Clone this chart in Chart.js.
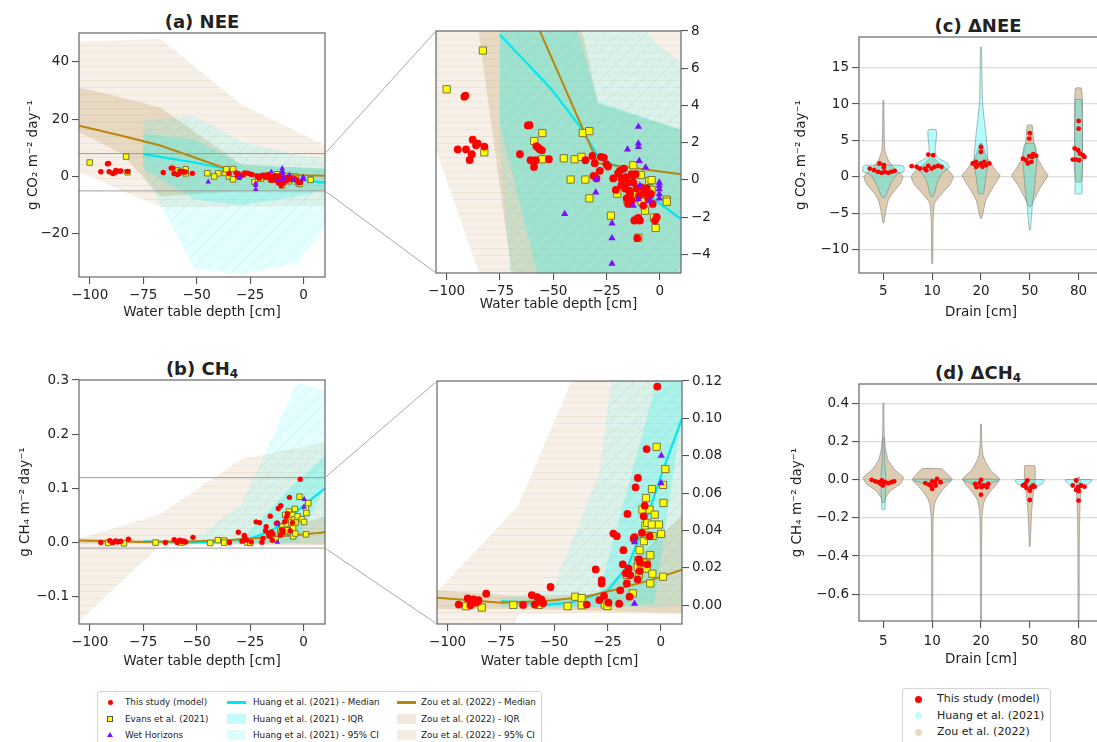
<!DOCTYPE html>
<html>
<head>
<meta charset="utf-8">
<script src="https://cdn.jsdelivr.net/npm/chart.js@4.4.1/dist/chart.umd.min.js"></script>
<style>
  body { margin: 0; background: #fff; width: 1097px; height: 742px; overflow: hidden; position: relative; font-family: 'DejaVu Sans', sans-serif; color: #222; }
  canvas { position: absolute; }
  .ttl { position: absolute; width: 240px; text-align: center; font-weight: bold; font-size: 18px; line-height: 18px; white-space: nowrap; }
  .ttl sub { font-size: 12px; vertical-align: -3px; line-height: 0; }
  .leg { position: absolute; border: 1px solid #d4d4d4; border-radius: 3px; background: #fff; }
  .li { position: absolute; white-space: nowrap; }
  .mk { position: absolute; }
  #overlay { position: absolute; left: 0; top: 0; pointer-events: none; }
</style>
</head>
<body>

<div class="ttl" style="left:82px;top:13px">(a) NEE</div>
<div class="ttl" style="left:82px;top:360px">(b) CH<sub>4</sub></div>
<div class="ttl" style="left:858px;top:17px">(c) ΔNEE</div>
<div class="ttl" style="left:858px;top:364px">(d) ΔCH<sub>4</sub></div>

<canvas id="cA" width="340" height="322" style="left:0;top:0"></canvas>
<canvas id="cAZ" width="330" height="322" style="left:400px;top:0"></canvas>
<canvas id="cB" width="340" height="322" style="left:0;top:350px"></canvas>
<canvas id="cBZ" width="330" height="322" style="left:400px;top:350px"></canvas>
<canvas id="cC" width="350" height="322" style="left:760px;top:0"></canvas>
<canvas id="cD" width="350" height="322" style="left:760px;top:350px"></canvas>

<div class="leg" id="leg1" style="left:97px;top:691px;width:443px;height:60px"></div>
<div class="leg" id="leg2" style="left:902px;top:688px;width:147px;height:62px"></div>

<svg id="overlay" width="1097" height="742"></svg>

<script>
// ---------- data: water table depth [cm] vs NEE [g CO2 m-2 day-1] ----------
const studyNeeWtd = [-91.2, -91.7, -94.8, -90.9, -87.8, -86.2, -85.4, -88.2, -89.2, -82.3, -65.6, -61.9, -61.1, -60.6, -59, -58.2, -57.9, -57, -56.2, -55.3, -52, -34.9, -31.6, -30.5, -31, -29.7, -28.1, -27.6, -26.2, -25, -24.2, -21.8, -20.6, -19.5, -18.7, -17.9, -16.8, -15.9, -14.8, -15.5, -14.8, -14, -13.2, -12.4, -11.3, -11.9, -10.8, -10, -10.5, -9.3, -12.4, -10.8, -8.5, -7.2, -6.1, -5.3, -3.3, -2.2, -1.4, -14.3, -13.2, -7.7, -9.7, -6.1, -4.1, -16.2, -18];
const studyNeeFlux = [4.53, 4.47, 1.64, 1.64, 2.16, 1.86, 1.95, 1.38, 1.07, 1.79, 1.38, 2.93, 2.94, 1.06, 0.7, 1.06, 1.82, 1.73, 1.64, 1.59, 1.11, 1.06, 1.29, 0.9, 0.22, 0.08, 0.49, 1.24, 1.2, 0.84, 0.72, 0.08, -0.53, 0.36, 0.49, 0.08, 0.61, 0.13, -0.14, -0.99, -1.29, -0.74, 0.31, 0.22, 0.31, -2.18, -2.09, -2.04, -3.13, -2.18, -0.14, -0.46, -0.4, -0.58, -0.76, -1.03, -1.29, -2.18, -2, -0.58, -1.12, -1.38, -0.85, -0.46, -0.76, -0.46, -0.28];
const evansNeeWtd = [-100, -83, -82.3, -58.9, -55.1, -55.1, -45, -39.9, -41.8, -36.7, -36.1, -33, -34.9, -33, -22.9, -19.9, -12.4, -15.1, -13.5, -11.6, -8.9, -10.5, -9.3, -8.5, -6.9, -6.9, -4.9, -3.8, -3.8, -2.7, -1.9, -10, 3.3, 3.3, -4.9];
const evansNeeFlux = [4.87, 6.95, 1.48, 2.09, 2.52, 1.11, 1.16, 1.11, 0.02, 1.24, 2.52, 2.62, 0.02, -0.99, -1.92, -0.74, 0.79, -1.1, -0.99, -0.67, 0.27, -0.74, -0.99, -1.17, -1.65, -0.67, -0.05, -0.01, -0.53, -2.02, -2.58, -3.1, -1.06, -1.17, -0.76];
const wetNeeWtd = [-44.6, -30, -29.7, -22.4, -22.4, -22.4, -15.1, -10, -10, -10, -9.6, -6.6, -12.4, -10, -0.2, -0.2, -0.2, -0.2, -0.2, -9.3, -4.6];
const wetNeeFlux = [-1.83, -0.67, 0.04, -2.33, -3.13, -4.5, 1.64, 2.86, 1.96, 1.77, 1.02, 0.67, -1.38, -1.03, -0.14, -0.49, -0.76, -0.99, -0.31, -0.31, -1.12];

// Huang et al. (2021) NEE
const huangNeeMedWtd = [-75, -51, -37, -28, -19, -12, -3, 10];
const huangNeeMed = [7.8, 4.9, 2.8, 1.1, 0.7, -0.1, -1.0, -2.1];
const huangNeeBandWtd = [-75, -51, -29, -3, 10];
const huangNeeIqrHi = [15, 13, 4.2, 3.2, 2.7];
const huangNeeIqrLo = [3, -8, -10, -7, -4.6];
const huangNeeCiHi = [19.6, 21.1, 12.1, 7.5, 6.3];
const huangNeeCiLo = [1.6, -32, -34, -30, -18];

// Zou et al. (2022) NEE
const zouNeeWtd = [-105, -85, -67, -29, 10];
const zouNeeMed = [17.7, 14.2, 10.8, 0.9, 0.3];
const zouNeeIqrHi = [31, 27.5, 24, 4.1, 2.7];
const zouNeeIqrLo = [15.5, 8, -7, -5, -5];
const zouNeeCiHi = [47, 47.5, 48, 25, 11];
const zouNeeCiLo = [1.6, -4.9, -10.5, -10.4, -10.2];

// ---------- data: water table depth [cm] vs CH4 [g CH4 m-2 day-1] ----------
const studyCh4Wtd = [-94.8, -90.6, -89.3, -87.9, -86.9, -85.8, -85.5, -81.9, -60.5, -59.1, -57.9, -56.8, -56, -55.2, -64.6, -51.7, -34.7, -30.5, -28.8, -27.7, -27.7, -26.6, -24.5, -22.2, -20.6, -19.5, -19, -17.8, -17.5, -16.4, -15.6, -15.9, -15.1, -14.3, -14.6, -12.7, -12.3, -11.8, -10.7, -10.8, -10.2, -9.9, -8.8, -8, -7.5, -6.6, -6.3, -5.2, -1.6, -9.6];
const studyCh4Flux = [0.0004, 0.0037, 0.0, 0.0032, 0.0014, 0.002, 0.0028, 0.0062, 0.0055, 0.0004, 0.0044, 0.0021, 0.0032, 0.0011, 0.0002, 0.0098, 0.0004, 0.0192, 0.0028, 0.0117, 0.0135, 0.005, 0.0014, 0.0384, 0.037, 0.0009, 0.008, 0.0219, 0.0295, 0.0171, 0.0489, 0.0117, 0.0196, 0.0162, 0.0046, 0.0356, 0.0364, 0.0631, 0.0681, 0.0139, 0.0245, 0.0183, 0.0388, 0.0476, 0.0533, 0.0836, 0.0219, 0.037, 0.117, 0.0228];
const evansCh4Wtd = [-91.4, -84, -69.2, -57.1, -43.7, -40.1, -37.1, -37.1, -26.3, -25, -15.9, -13.1, -10.8, -10.7, -10.2, -9.9, -9.3, -8.6, -7.9, -7.2, -6.9, -6.8, -6.6, -6.3, -5.7, -5.2, -4.9, -4.9, -4.2, -4.1, -3.9, -3.8, -2.8, -1.9, -0.8, 0.2, 1.1, 1.3, 2.2, 1.1, -7.7];
const evansCh4Flux = [-0.0005, -0.0012, 0.0002, 0.0002, -0.0005, 0.0046, 0.0039, 0.0, 0.0004, -0.0004, 0.0162, 0.0064, 0.0206, 0.0242, 0.0165, 0.0295, 0.0217, 0.0512, 0.0343, 0.0427, 0.0574, 0.0231, 0.0196, 0.0441, 0.0373, 0.0512, 0.0268, 0.0117, 0.0432, 0.0622, 0.0169, 0.037, 0.0485, 0.0848, 0.0432, 0.0382, 0.0644, 0.0548, 0.0729, 0.0153, 0.0228];
const wetCh4Wtd = [-12.3, -12.3, 0.3, 0.2];
const wetCh4Flux = [0.0009, 0.0338, 0.08, 0.0654];

const huangCh4MedWtd = [-75, -55, -42, -25, -15, -7, 1, 10];
const huangCh4Med = [0.0023, 0.0002, 0.0014, 0.0076, 0.022, 0.045, 0.072, 0.1];
const huangCh4BandWtd = [-75, -51, -29, -3, 10];
const huangCh4IqrHi = [0.003, 0.003, 0.006, 0.115, 0.16];
const huangCh4IqrLo = [0.0, -0.001, -0.001, 0.001, 0.102];
const huangCh4CiHi = [0.004, 0.008, 0.07, 0.295, 0.28];
const huangCh4CiLo = [-0.001, -0.001, -0.001, -0.001, 0.0];

const zouCh4MedWtd = [-105, -75, -54, -36, -21, -3, 10];
const zouCh4Med = [0.004, 0.0014, 0.0023, 0.0044, 0.0085, 0.014, 0.019];
const zouCh4BandWtd = [-105, -67, -29, 10];
const zouCh4IqrHi = [0.008, 0.005, 0.006, 0.048];
const zouCh4IqrLo = [-0.002, -0.002, -0.003, -0.004];
const zouCh4CiHi = [0.0073, 0.053, 0.154, 0.185];
const zouCh4CiLo = [-0.1455, -0.005, -0.004, -0.005];

// axis ranges and ticks
const wtdRange = [-105, 10];
const wtdTicks = [-100, -75, -50, -25, 0];
const neeRange = [-35, 50];
const neeTicks = [-20, 0, 20, 40];
const neeZoom = [-5, 8];
const neeZoomTicks = [-4, -2, 0, 2, 4, 6, 8];
const ch4Range = [-0.15, 0.3];
const ch4Ticks = [-0.1, 0.0, 0.1, 0.2, 0.3];
const ch4Zoom = [-0.01, 0.12];
const ch4ZoomTicks = [0, 0.02, 0.04, 0.06, 0.08, 0.10, 0.12];

// ---------- data: drain depth violins ----------
const drainLabels = ['5', '10', '20', '50', '80'];
const dNeeRange = [-13.2, 19.2];
const dNeeTicks = [-10, -5, 0, 5, 10, 15];
const dCh4Range = [-0.74, 0.5];
const dCh4Ticks = [-0.6, -0.4, -0.2, 0.0, 0.2, 0.4];

// violin outlines: value levels (top to bottom) and half widths
const zouDNeeLevels = [
  [10.5, 7, 3.65, 2.3, 1.4, 0.6, 0, -0.8, -1.6, -2.4, -3.2, -5, -6.3],
  [2.8, 2.05, 1.1, 0.4, 0, -0.9, -2.3, -3.6, -6, -9, -11.9],
  [4.6, 2.7, 0.9, 0.2, -1.4, -3.2, -5, -5.7],
  [7.1, 5, 2.7, 0.9, 0.2, -1.4, -3.2, -4.1],
  [12.2, 10.5, 8, 5.9, 3, 1.4, 0, -0.7]
];
const zouDNeeWidth = [
  [0.01, 0.015, 0.03, 0.1, 0.2, 0.33, 0.4, 0.36, 0.27, 0.17, 0.1, 0.04, 0.01],
  [0.02, 0.12, 0.3, 0.4, 0.43, 0.38, 0.2, 0.05, 0.02, 0.015, 0.01],
  [0.02, 0.12, 0.3, 0.39, 0.25, 0.1, 0.04, 0.01],
  [0.05, 0.08, 0.15, 0.3, 0.37, 0.22, 0.08, 0.02],
  [0.06, 0.08, 0.08, 0.08, 0.08, 0.08, 0.07, 0.05]
];
const huangDNeeLevels = [
  [1.6, 1.4, 0.7, 0.45, -0.3, -1.4, -2.2, -2.8],
  [6.5, 6.2, 5, 3.65, 2.7, 1.9, 1.3, 0.45, -0.5, -1.4, -2.2, -2.7],
  [17.8, 14, 10.5, 8.2, 5.9, 3.65, 1.8, 0, -1.4, -2.3],
  [4.6, 4.2, 2.7, 0.45, -1.4, -4.1, -5.9, -7.3],
  [10.6, 10, 5.9, 1.4, -1, -2.3]
];
const huangDNeeWidth = [
  [0.36, 0.42, 0.42, 0.3, 0.2, 0.12, 0.07, 0.03],
  [0.07, 0.09, 0.08, 0.06, 0.1, 0.3, 0.35, 0.2, 0.12, 0.08, 0.05, 0.02],
  [0.01, 0.02, 0.03, 0.06, 0.1, 0.13, 0.14, 0.1, 0.07, 0.05],
  [0.08, 0.12, 0.15, 0.12, 0.1, 0.05, 0.03, 0.01],
  [0.06, 0.07, 0.08, 0.08, 0.07, 0.07]
];
const zouDCh4Levels = [
  [0.4, 0.3, 0.22, 0.15, 0.1, 0.047, 0.012, -0.023, -0.058, -0.093, -0.12],
  [0.057, 0.02, 0.0, -0.03, -0.058, -0.1, -0.128, -0.2, -0.4, -0.76],
  [0.29, 0.2, 0.13, 0.1, 0.047, 0.003, -0.03, -0.058, -0.1, -0.128, -0.2, -0.4, -0.76],
  [0.073, 0.06, 0.0, -0.058, -0.16, -0.3, -0.35],
  [0.012, -0.04, -0.128, -0.3, -0.5, -0.76]
];
const zouDCh4Width = [
  [0.01, 0.012, 0.02, 0.05, 0.1, 0.25, 0.41, 0.35, 0.15, 0.05, 0.02],
  [0.2, 0.35, 0.41, 0.3, 0.2, 0.09, 0.05, 0.02, 0.013, 0.01],
  [0.01, 0.015, 0.04, 0.08, 0.2, 0.38, 0.3, 0.2, 0.09, 0.05, 0.02, 0.013, 0.01],
  [0.1, 0.11, 0.11, 0.08, 0.04, 0.015, 0.008],
  [0.02, 0.05, 0.03, 0.015, 0.012, 0.01]
];
const huangDCh4Levels = [
  [0.22, 0.15, 0.08, 0.01, -0.04, -0.09, -0.135, -0.155],
  [0.002, -0.005, -0.014, -0.025, -0.03],
  [0.002, -0.005, -0.014, -0.03, -0.04],
  [0.0, -0.01, -0.023, -0.04, -0.05],
  [0.0, -0.01, -0.023, -0.04, -0.05]
];
const huangDCh4Width = [
  [0.015, 0.02, 0.03, 0.05, 0.05, 0.04, 0.035, 0.03],
  [0.38, 0.37, 0.25, 0.1, 0.03],
  [0.37, 0.35, 0.25, 0.12, 0.03],
  [0.29, 0.29, 0.25, 0.1, 0.03],
  [0.27, 0.26, 0.2, 0.08, 0.03]
];

// model points per drain depth (swarm offset, value)
const neeSwarmOff = [
  [-0.28, -0.19, -0.11, -0.04, 0.03, 0.1, 0.16, 0.23, -0.08, 0.01, 0.01],
  [-0.42, -0.32, -0.25, -0.15, -0.08, -0.01, 0.05, 0.12, 0.19, -0.08, 0.02, -0.12],
  [-0.17, -0.1, -0.07, 0, 0, 0, 0.07, 0.1, 0.17, -0.1, 0.03],
  [-0.14, -0.08, -0.01, -0.01, 0, 0.05, 0.07, 0.13, -0.04, 0.03],
  [0, 0, -0.08, -0.01, 0.03, 0.09, 0.12, -0.06, 0.01, -0.12]
];
const neeSwarmVal = [
  [1.14, 0.91, 0.68, 0.55, 0.68, 0.55, 0.68, 0.82, 1.83, 1.6, 1.28],
  [1.46, 1.37, 1.14, 1.14, 1.5, 1.14, 1.37, 1.5, 1.37, 3.06, 2.97, 0.9],
  [1.83, 2.05, 1.6, 1.83, 3.42, 4.1, 2.05, 1.6, 1.83, 1.37, 1.37],
  [2.5, 2.28, 2.83, 5.25, 6.0, 2.74, 3.1, 2.88, 1.83, 2.05],
  [7.67, 6.62, 3.9, 3.65, 3.2, 2.97, 2.74, 2.37, 2.28, 2.37]
];
const ch4SwarmOff = [
  [-0.24, -0.17, -0.1, -0.05, -0.01, 0.03, 0.1, 0.17, 0.22, -0.03],
  [-0.14, -0.07, 0, 0.05, 0.1, 0.17, 0, -0.03, 0.07],
  [-0.12, -0.09, -0.03, 0, 0.01, 0, 0.06, 0.12, 0.15],
  [-0.14, -0.07, -0.05, 0, 0.03, 0.07, 0, 0.1, -0.09],
  [-0.05, -0.12, -0.01, 0.05, 0.12, -0.05, 0, 0]
];
const ch4SwarmVal = [
  [-0.002, -0.009, -0.014, -0.023, -0.031, -0.014, -0.019, -0.014, -0.009, -0.005],
  [-0.019, -0.026, -0.009, -0.014, 0.003, -0.014, -0.049, -0.031, -0.031],
  [-0.023, -0.04, -0.019, -0.002, -0.04, -0.079, -0.031, -0.04, -0.023],
  [-0.031, -0.044, -0.005, -0.058, -0.04, -0.031, -0.107, -0.037, -0.023],
  [-0.005, -0.031, -0.04, -0.031, -0.037, -0.054, -0.061, -0.11]
];

// ---------- styles ----------
const RED = '#ff0000';
const HUANG_LINE = 'rgb(0,232,240)';
const ZOU_LINE = '#b8860b';
const ZOOM_GRAY = 'rgba(150,150,150,0.9)';
const SQUARE_FILL = '#ffff00';
const SQUARE_EDGE = '#77773a';
const WET_FILL = '#7b10ff';

Chart.defaults.font.family = "'DejaVu Sans', sans-serif";
Chart.defaults.color = '#222';
Chart.defaults.animation = false;
Chart.defaults.plugins.legend.display = false;
Chart.defaults.plugins.tooltip.enabled = false;

// hatch patterns for the 95% CI bands
function makePattern(bg, stroke, kind) {
  const s = kind === 'h' ? 7 : 14;
  const c = document.createElement('canvas');
  c.width = s; c.height = s;
  const g = c.getContext('2d');
  g.fillStyle = bg;
  g.fillRect(0, 0, s, s);
  g.strokeStyle = stroke;
  g.lineWidth = 1;
  g.beginPath();
  if (kind === 'h') {
    g.moveTo(0, 3.5); g.lineTo(s, 3.5);
  } else {
    g.moveTo(0, s); g.lineTo(s, 0);
    g.moveTo(-2, 2); g.lineTo(2, -2);
    g.moveTo(s - 2, s + 2); g.lineTo(s + 2, s - 2);
  }
  g.stroke();
  return g.createPattern(c, 'repeat');
}
const zouCiFill = makePattern('rgba(210,180,140,0.2)', 'rgba(195,170,125,0.16)', 'h');
const huangCiFill = makePattern('rgba(0,255,255,0.11)', 'rgba(0,200,210,0.14)', 'd');
const zouIqrFill = 'rgba(205,175,130,0.38)';
const huangIqrFill = 'rgba(0,245,235,0.22)';

// ---------- dataset helpers ----------
function pts(xs, ys) { return xs.map((x, i) => ({ x: x, y: ys[i] })); }

function bandSet(xs, lo, hi, fill) {
  return {
    data: pts(xs, hi).concat(pts(xs, lo).reverse()),
    fill: 'shape', backgroundColor: fill, borderColor: 'transparent', borderWidth: 0,
    pointRadius: 0, tension: 0
  };
}
function lineSet(xs, ys, color, w) {
  return { data: pts(xs, ys), borderColor: color, borderWidth: w, pointRadius: 0, fill: false, tension: 0 };
}
function dotSet(xs, ys, style, r, bg, border) {
  return {
    data: pts(xs, ys), showLine: false, pointStyle: style, pointRadius: r,
    backgroundColor: bg, borderColor: border || bg, borderWidth: border ? 1 : 0
  };
}
function violinSet(center, levels, widths, fill) {
  const right = levels.map((v, i) => ({ x: center + widths[i], y: v }));
  const left = levels.map((v, i) => ({ x: center - widths[i], y: v })).reverse();
  const ring = right.concat(left);
  ring.push(ring[0]);
  return {
    data: ring, fill: 'shape', backgroundColor: fill, borderColor: 'rgba(120,120,120,0.55)',
    borderWidth: 1, pointRadius: 0, tension: 0.15
  };
}

const fmtDec = d => v => (v < 0 ? '\u2212' : '') + Math.abs(v).toFixed(d);

function axisCfg(o) {
  return {
    type: 'linear', position: o.pos, min: o.range[0], max: o.range[1],
    afterBuildTicks: s => { s.ticks = o.ticks.map(v => ({ value: v })); },
    afterFit: s => { if (o.width) s.width = o.width; if (o.height) s.height = o.height; },
    ticks: { callback: o.fmt, color: '#222', font: { size: 13.5 }, padding: o.tpad || 3, maxRotation: 0, autoSkip: false },
    grid: {
      display: true, drawOnChartArea: !!o.grid, color: '#dcdcdc', lineWidth: 1.2,
      drawTicks: true, tickLength: 7, tickColor: '#444', tickWidth: 1
    },
    border: { display: false },
    title: o.title ? {
      display: true, text: o.title, color: '#222', font: { size: 13.5 },
      padding: o.titlePad
    } : { display: false }
  };
}

// box around plot area
const framePlugin = {
  id: 'frame',
  afterDatasetsDraw(chart) {
    const { ctx, chartArea: a } = chart;
    ctx.save();
    ctx.strokeStyle = '#666';
    ctx.lineWidth = 1.2;
    ctx.strokeRect(a.left, a.top, a.right - a.left, a.bottom - a.top);
    ctx.restore();
  }
};

function makeChart(id, datasetsBottomUp, xAxis, yAxis, padding) {
  return new Chart(document.getElementById(id).getContext('2d'), {
    type: 'line',
    data: { datasets: datasetsBottomUp.slice().reverse() },
    options: {
      responsive: false,
      layout: { padding: padding },
      scales: { x: xAxis, y: yAxis },
      elements: { line: { capBezierPoints: true } }
    },
    plugins: [framePlugin]
  });
}

// ---------- water table panels ----------
// marker radii: [circle, square, triangle]
const mainMarks = [2.7, 3.9, 3.2];
const zoomMarks = [3.9, 5.1, 4.2];

function neeSets(withZoomLines, mk) {
  const sets = [
    bandSet(zouNeeWtd, zouNeeCiLo, zouNeeCiHi, zouCiFill),
    bandSet(zouNeeWtd, zouNeeIqrLo, zouNeeIqrHi, zouIqrFill),
    bandSet(huangNeeBandWtd, huangNeeCiLo, huangNeeCiHi, huangCiFill),
    bandSet(huangNeeBandWtd, huangNeeIqrLo, huangNeeIqrHi, huangIqrFill),
    lineSet(huangNeeMedWtd, huangNeeMed, HUANG_LINE, 2.2),
    lineSet(zouNeeWtd, zouNeeMed, ZOU_LINE, 2)
  ];
  if (withZoomLines) {
    sets.push(lineSet(wtdRange, [neeZoom[0], neeZoom[0]], ZOOM_GRAY, 1));
    sets.push(lineSet(wtdRange, [neeZoom[1], neeZoom[1]], ZOOM_GRAY, 1));
  }
  sets.push(dotSet(evansNeeWtd, evansNeeFlux, 'rect', mk[1], SQUARE_FILL, SQUARE_EDGE));
  sets.push(dotSet(studyNeeWtd, studyNeeFlux, 'circle', mk[0], RED));
  sets.push(dotSet(wetNeeWtd, wetNeeFlux, 'triangle', mk[2], WET_FILL));
  return sets;
}
function ch4Sets(withZoomLines, mk) {
  const sets = [
    bandSet(zouCh4BandWtd, zouCh4CiLo, zouCh4CiHi, zouCiFill),
    bandSet(zouCh4BandWtd, zouCh4IqrLo, zouCh4IqrHi, zouIqrFill),
    bandSet(huangCh4BandWtd, huangCh4CiLo, huangCh4CiHi, huangCiFill),
    bandSet(huangCh4BandWtd, huangCh4IqrLo, huangCh4IqrHi, huangIqrFill),
    lineSet(huangCh4MedWtd, huangCh4Med, HUANG_LINE, 2.2),
    lineSet(zouCh4MedWtd, zouCh4Med, ZOU_LINE, 2)
  ];
  if (withZoomLines) {
    sets.push(lineSet(wtdRange, [ch4Zoom[0], ch4Zoom[0]], ZOOM_GRAY, 1));
    sets.push(lineSet(wtdRange, [ch4Zoom[1], ch4Zoom[1]], ZOOM_GRAY, 1));
  }
  sets.push(dotSet(evansCh4Wtd, evansCh4Flux, 'rect', mk[1], SQUARE_FILL, SQUARE_EDGE));
  sets.push(dotSet(studyCh4Wtd, studyCh4Flux, 'circle', mk[0], RED));
  sets.push(dotSet(wetCh4Wtd, wetCh4Flux, 'triangle', mk[2], WET_FILL));
  return sets;
}

const wtdTitle = 'Water table depth [cm]';
const neeUnit = 'g CO\u2082 m\u207B\u00B2 day\u207B\u00B9';
const ch4Unit = 'g CH\u2084 m\u207B\u00B2 day\u207B\u00B9';

const chartA = makeChart('cA', neeSets(true, mainMarks),
  axisCfg({ pos: 'bottom', range: wtdRange, ticks: wtdTicks, fmt: fmtDec(0), height: 45, title: wtdTitle, titlePad: { top: 0, bottom: 1 } }),
  axisCfg({ pos: 'left', range: neeRange, ticks: neeTicks, fmt: fmtDec(0), width: 79, title: neeUnit, titlePad: { top: 25, bottom: 0 } }),
  { top: 33, right: 15, left: 0, bottom: 0 });

const chartAZ = makeChart('cAZ', neeSets(false, zoomMarks),
  axisCfg({ pos: 'bottom', range: wtdRange, ticks: wtdTicks, fmt: fmtDec(0), height: 49, title: wtdTitle, titlePad: { top: 0, bottom: 9 } }),
  axisCfg({ pos: 'right', range: neeZoom, ticks: neeZoomTicks, fmt: fmtDec(0), width: 49 }),
  { top: 31, right: 0, left: 36, bottom: 0 });

const chartB = makeChart('cB', ch4Sets(true, mainMarks),
  axisCfg({ pos: 'bottom', range: wtdRange, ticks: wtdTicks, fmt: fmtDec(0), height: 48, title: wtdTitle, titlePad: { top: 0, bottom: 2 } }),
  axisCfg({ pos: 'left', range: ch4Range, ticks: ch4Ticks, fmt: fmtDec(1), width: 79, title: ch4Unit, titlePad: { top: 17, bottom: 0 } }),
  { top: 30, right: 15, left: 0, bottom: 0 });

const chartBZ = makeChart('cBZ', ch4Sets(false, zoomMarks),
  axisCfg({ pos: 'bottom', range: wtdRange, ticks: wtdTicks, fmt: fmtDec(0), height: 48, title: wtdTitle, titlePad: { top: 0, bottom: 2 } }),
  axisCfg({ pos: 'right', range: ch4Zoom, ticks: ch4ZoomTicks, fmt: fmtDec(2), width: 48 }),
  { top: 31, right: 0, left: 37, bottom: 0 });

// ---------- drain violin panels ----------
function violinSets(zLv, zW, hLv, hW, offs, vals) {
  const sets = [];
  drainLabels.forEach((_, i) => sets.push(violinSet(i, zLv[i], zW[i], 'rgba(205,180,140,0.68)')));
  drainLabels.forEach((_, i) => sets.push(violinSet(i, hLv[i], hW[i], 'rgba(0,250,250,0.3)')));
  const xs = [], ys = [];
  offs.forEach((row, i) => row.forEach((o, j) => { xs.push(i + o); ys.push(vals[i][j]); }));
  sets.push(dotSet(xs, ys, 'circle', 2.4, RED));
  return sets;
}
const drainX = (h, pad, tpad) => axisCfg({
  pos: 'bottom', range: [-0.5, 4.5], ticks: [0, 1, 2, 3, 4], fmt: v => drainLabels[v],
  height: h, title: 'Drain [cm]', titlePad: { top: 0, bottom: pad }, tpad: tpad
});

const chartC = makeChart('cC',
  violinSets(zouDNeeLevels, zouDNeeWidth, huangDNeeLevels, huangDNeeWidth, neeSwarmOff, neeSwarmVal),
  drainX(49, 1, 3),
  axisCfg({ pos: 'left', range: dNeeRange, ticks: dNeeTicks, fmt: fmtDec(0), width: 99, grid: true, title: neeUnit, titlePad: { top: 33, bottom: 0 } }),
  { top: 37, right: 7, left: 0, bottom: 0 });

const chartD = makeChart('cD',
  violinSets(zouDCh4Levels, zouDCh4Width, huangDCh4Levels, huangDCh4Width, ch4SwarmOff, ch4SwarmVal),
  drainX(51, 4, 5),
  axisCfg({ pos: 'left', range: dCh4Range, ticks: dCh4Ticks, fmt: fmtDec(1), width: 99, grid: true, title: ch4Unit, titlePad: { top: 29, bottom: 0 } }),
  { top: 34, right: 7, left: 0, bottom: 0 });

// ---------- zoom connectors ----------
const svgNS = 'http://www.w3.org/2000/svg';
const overlay = document.getElementById('overlay');
function seg(x1, y1, x2, y2) {
  const l = document.createElementNS(svgNS, 'line');
  l.setAttribute('x1', x1); l.setAttribute('y1', y1);
  l.setAttribute('x2', x2); l.setAttribute('y2', y2);
  l.setAttribute('stroke', '#a8a8a8'); l.setAttribute('stroke-width', '1');
  overlay.appendChild(l);
}
function connect(main, mainId, zoom, zoomId, range) {
  const mEl = document.getElementById(mainId), zEl = document.getElementById(zoomId);
  const mx = mEl.offsetLeft + main.chartArea.right;
  const zx = zEl.offsetLeft + zoom.chartArea.left;
  seg(mx, mEl.offsetTop + main.scales.y.getPixelForValue(range[1]), zx, zEl.offsetTop + zoom.chartArea.top);
  seg(mx, mEl.offsetTop + main.scales.y.getPixelForValue(range[0]), zx, zEl.offsetTop + zoom.chartArea.bottom);
}
connect(chartA, 'cA', chartAZ, 'cAZ', neeZoom);
connect(chartB, 'cB', chartBZ, 'cBZ', ch4Zoom);

// ---------- legends ----------
const leg1Items = [
  { col: 0, row: 0, kind: 'circle', color: RED, text: 'This study (model)' },
  { col: 0, row: 1, kind: 'square', color: SQUARE_FILL, text: 'Evans et al. (2021)' },
  { col: 0, row: 2, kind: 'tri', color: WET_FILL, text: 'Wet Horizons' },
  { col: 1, row: 0, kind: 'line', color: HUANG_LINE, text: 'Huang et al. (2021) - Median' },
  { col: 1, row: 1, kind: 'patch', color: '#c6fbfb', text: 'Huang et al. (2021) - IQR' },
  { col: 1, row: 2, kind: 'patch', color: '#e0fdfd', text: 'Huang et al. (2021) - 95% CI' },
  { col: 2, row: 0, kind: 'line', color: ZOU_LINE, text: 'Zou et al. (2022) - Median' },
  { col: 2, row: 1, kind: 'patch', color: '#f1e9dc', text: 'Zou et al. (2022) - IQR' },
  { col: 2, row: 2, kind: 'patch', color: '#f3ece1', text: 'Zou et al. (2022) - 95% CI' }
];
const leg1 = document.getElementById('leg1');
const colMark = [12, 129, 299], colText = [27, 155, 323], rowY = [10, 27, 43];
leg1Items.forEach(it => {
  const y = rowY[it.row];
  const m = document.createElement('div');
  m.className = 'mk';
  const cx = colMark[it.col];
  if (it.kind === 'circle') {
    Object.assign(m.style, { left: (cx - 2.5) + 'px', top: (y - 2.5) + 'px', width: '5px', height: '5px', borderRadius: '50%', background: it.color });
  } else if (it.kind === 'square') {
    Object.assign(m.style, { left: (cx - 3) + 'px', top: (y - 3) + 'px', width: '4px', height: '4px', background: it.color, border: '1px solid #555' });
  } else if (it.kind === 'tri') {
    Object.assign(m.style, { left: (cx - 3) + 'px', top: (y - 3) + 'px', width: 0, height: 0, borderLeft: '3px solid transparent', borderRight: '3px solid transparent', borderBottom: '5px solid ' + it.color });
  } else if (it.kind === 'line') {
    Object.assign(m.style, { left: cx + 'px', top: (y - 1.5) + 'px', width: '19px', height: '3px', background: it.color });
  } else {
    Object.assign(m.style, { left: cx + 'px', top: (y - 5) + 'px', width: '19px', height: '10px', background: it.color });
  }
  leg1.appendChild(m);
  const t = document.createElement('div');
  t.className = 'li';
  Object.assign(t.style, { left: colText[it.col] + 'px', top: (y - 6) + 'px', fontSize: '8.8px', lineHeight: '12px' });
  t.textContent = it.text;
  leg1.appendChild(t);
});

const leg2Items = [
  { color: RED, text: 'This study (model)' },
  { color: '#c6fbfb', text: 'Huang et al. (2021)' },
  { color: '#e6dac2', text: 'Zou et al. (2022)' }
];
const leg2 = document.getElementById('leg2');
const leg2Y = [10, 26.5, 43];
leg2Items.forEach((it, i) => {
  const m = document.createElement('div');
  m.className = 'mk';
  Object.assign(m.style, { left: '12px', top: (leg2Y[i] - 3.5) + 'px', width: '7px', height: '7px', borderRadius: '50%', background: it.color });
  leg2.appendChild(m);
  const t = document.createElement('div');
  t.className = 'li';
  Object.assign(t.style, { left: '34px', top: (leg2Y[i] - 7) + 'px', fontSize: '11px', lineHeight: '14px' });
  t.textContent = it.text;
  leg2.appendChild(t);
});
</script>
</body>
</html>
